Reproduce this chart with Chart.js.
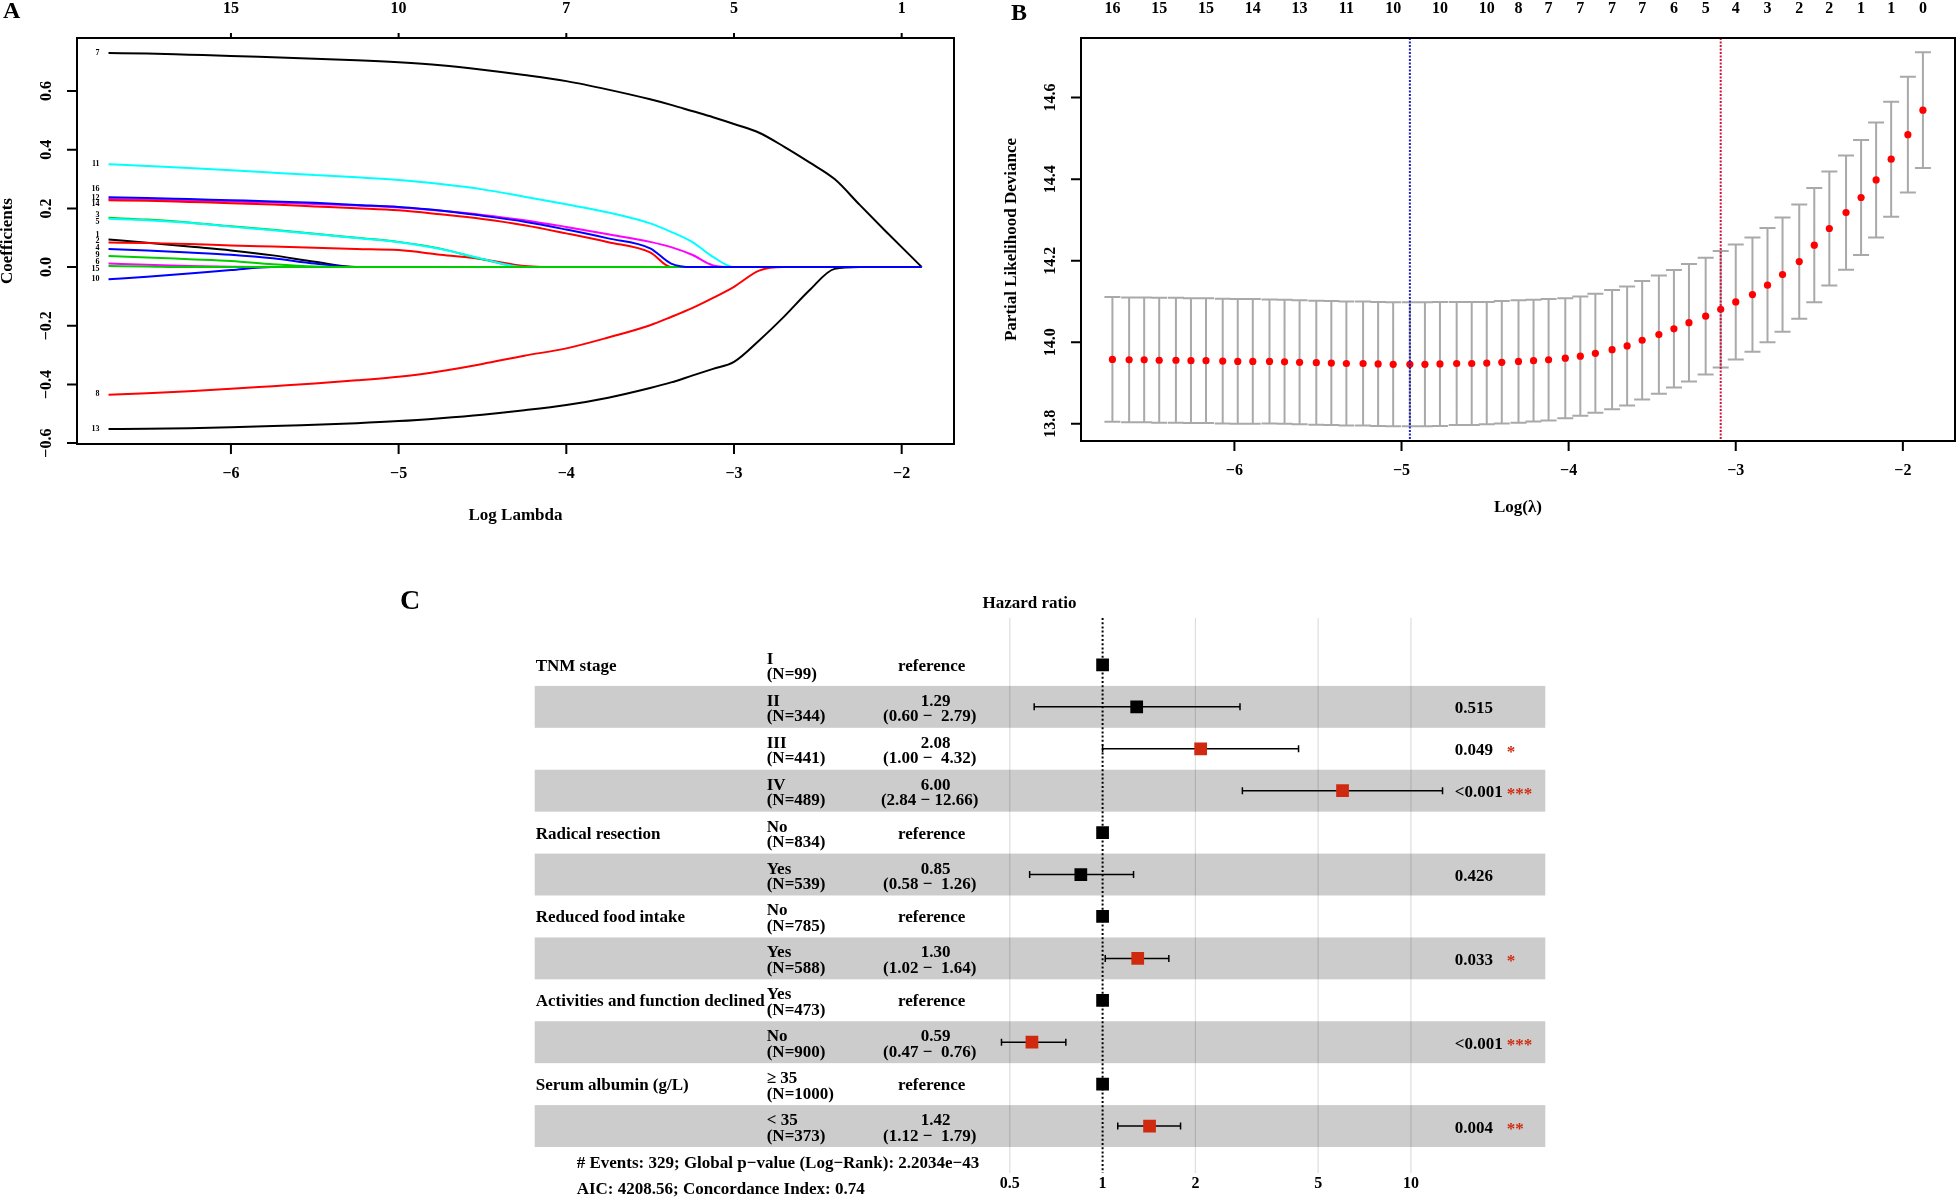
<!DOCTYPE html>
<html>
<head>
<meta charset="utf-8">
<title>LASSO Cox model and forest plot</title>
<script src="https://cdn.jsdelivr.net/npm/chart.js@4.4.1/dist/chart.umd.min.js"></script>
<style>
  body { margin: 0; background: #fff; }
  #page { position: relative; width: 1959px; height: 1198px; overflow: hidden; background: #fff; }
  canvas { position: absolute; }
</style>
</head>
<body>
<div id="page">
  <canvas id="chartA" width="980" height="540" style="left:0;top:0"></canvas>
  <canvas id="chartB" width="979" height="540" style="left:980px;top:0"></canvas>
  <canvas id="chartC" width="1200" height="638" style="left:380px;top:560px"></canvas>
</div>
<script>
const SERIF = '"Liberation Serif", "Times New Roman", serif'
const MINUS = '\u2212'
const rPalette = ['#000000', '#FF0000', '#00CD00', '#0000FF', '#00FFFF', '#FF00FF']

// ---- A: coefficient paths ----
const lambdaA = [-6.73, -6.5, -6.25, -6, -5.75, -5.5, -5.25, -5, -4.75, -4.5, -4.25, -4, -3.75, -3.5, -3.375, -3.25, -3.125, -3, -2.85, -2.7, -2.55, -2.4, -2.25, -2.1, -1.88]
const path1 = [0.094, 0.083, 0.070, 0.057, 0.040, 0.018, 0, 0, 0, 0, 0, 0, 0, 0, 0, 0, 0, 0, 0, 0, 0, 0, 0, 0, 0]
const path2 = [0.084, 0.082, 0.079, 0.074, 0.070, 0.066, 0.062, 0.058, 0.042, 0.027, 0.004, 0, 0, 0, 0, 0, 0, 0, 0, 0, 0, 0, 0, 0, 0]
const path3 = [0.168, 0.162, 0.152, 0.139, 0.127, 0.114, 0.100, 0.086, 0.063, 0.027, 0, 0, 0, 0, 0, 0, 0, 0, 0, 0, 0, 0, 0, 0, 0]
const path4 = [0.062, 0.057, 0.050, 0.042, 0.030, 0.012, 0, 0, 0, 0, 0, 0, 0, 0, 0, 0, 0, 0, 0, 0, 0, 0, 0, 0, 0]
const path5 = [0.165, 0.160, 0.151, 0.138, 0.126, 0.113, 0.099, 0.085, 0.062, 0.028, 0, 0, 0, 0, 0, 0, 0, 0, 0, 0, 0, 0, 0, 0, 0]
const path6 = [0.012, 0.008, 0.004, 0.001, 0, 0, 0, 0, 0, 0, 0, 0, 0, 0, 0, 0, 0, 0, 0, 0, 0, 0, 0, 0, 0]
const path7 = [0.730, 0.728, 0.724, 0.720, 0.715, 0.710, 0.705, 0.698, 0.688, 0.673, 0.655, 0.634, 0.605, 0.572, 0.553, 0.532, 0.511, 0.488, 0.458, 0.410, 0.357, 0.300, 0.212, 0.125, 0]
const path8 = [-0.435, -0.430, -0.423, -0.415, -0.406, -0.397, -0.386, -0.374, -0.355, -0.330, -0.302, -0.277, -0.240, -0.198, -0.170, -0.140, -0.105, -0.067, -0.012, 0, 0, 0, 0, 0, 0]
const path9 = [0.038, 0.033, 0.027, 0.021, 0.010, 0.002, 0, 0, 0, 0, 0, 0, 0, 0, 0, 0, 0, 0, 0, 0, 0, 0, 0, 0, 0]
const path10 = [-0.041, -0.033, -0.022, -0.010, 0, 0, 0, 0, 0, 0, 0, 0, 0, 0, 0, 0, 0, 0, 0, 0, 0, 0, 0, 0, 0]
const path11 = [0.351, 0.345, 0.338, 0.330, 0.322, 0.314, 0.306, 0.297, 0.283, 0.265, 0.240, 0.214, 0.186, 0.149, 0.120, 0.086, 0.035, 0, 0, 0, 0, 0, 0, 0, 0]
const path12 = [0.232, 0.230, 0.227, 0.224, 0.220, 0.215, 0.210, 0.203, 0.192, 0.178, 0.160, 0.137, 0.112, 0.086, 0.068, 0.042, 0.006, 0, 0, 0, 0, 0, 0, 0, 0]
const path13 = [-0.552, -0.551, -0.549, -0.546, -0.542, -0.537, -0.532, -0.525, -0.515, -0.503, -0.488, -0.470, -0.445, -0.412, -0.393, -0.370, -0.347, -0.323, -0.250, -0.168, -0.079, -0.006, 0, 0, 0]
const path14 = [0.228, 0.226, 0.222, 0.218, 0.213, 0.207, 0.201, 0.194, 0.180, 0.164, 0.143, 0.115, 0.085, 0.050, 0, 0, 0, 0, 0, 0, 0, 0, 0, 0, 0]
const path15 = [0.004, 0.002, 0, 0, 0, 0, 0, 0, 0, 0, 0, 0, 0, 0, 0, 0, 0, 0, 0, 0, 0, 0, 0, 0, 0]
const path16 = [0.238, 0.236, 0.232, 0.228, 0.224, 0.219, 0.212, 0.205, 0.193, 0.175, 0.155, 0.128, 0.098, 0.064, 0.012, 0, 0, 0, 0, 0, 0, 0, 0, 0, 0]
const pathsA = [path1, path2, path3, path4, path5, path6, path7, path8, path9, path10, path11, path12, path13, path14, path15, path16]
// where the little variable numbers sit on the left (coefficient units)
const labelYA = [0.109, 0.090, 0.177, 0.064, 0.154, 0.016, 0.731, -0.434, 0.041, -0.040, 0.352, 0.236, -0.552, 0.215, -0.006, 0.265]

const xTicksAB = [-6, -5, -4, -3, -2]
const yTicksA = [-0.6, -0.4, -0.2, 0, 0.2, 0.4, 0.6]
const topLabelsA = ['15', '10', '7', '5', '1']

// ---- B: cross-validation curve ----
const lambdaB = [-6.73, -6.63, -6.54, -6.45, -6.35, -6.26, -6.17, -6.07, -5.98, -5.89, -5.79, -5.70, -5.61, -5.51, -5.42, -5.33, -5.23, -5.14, -5.05, -4.95, -4.86, -4.77, -4.67, -4.58, -4.49, -4.40, -4.30, -4.21, -4.12, -4.02, -3.93, -3.84, -3.74, -3.65, -3.56, -3.46, -3.37, -3.28, -3.18, -3.09, -3.00, -2.90, -2.81, -2.72, -2.62, -2.53, -2.44, -2.34, -2.25, -2.16, -2.07, -1.97, -1.88]
const meanB = [13.958, 13.957, 13.957, 13.956, 13.956, 13.955, 13.955, 13.954, 13.953, 13.953,
  13.953, 13.952, 13.951, 13.950, 13.949, 13.948, 13.948, 13.947, 13.946, 13.946,
  13.946, 13.947, 13.948, 13.948, 13.949, 13.951, 13.953, 13.955, 13.957, 13.961,
  13.966, 13.973, 13.982, 13.991, 14.005, 14.019, 14.033, 14.048, 14.064, 14.081,
  14.099, 14.117, 14.140, 14.166, 14.198, 14.238, 14.279, 14.318, 14.355, 14.398,
  14.449, 14.509, 14.569]
const sdB = [0.153, 0.153, 0.153, 0.153, 0.153, 0.153, 0.153, 0.153, 0.153, 0.153,
  0.152, 0.152, 0.152, 0.152, 0.152, 0.152, 0.152, 0.152, 0.152, 0.152,
  0.152, 0.152, 0.151, 0.151, 0.150, 0.150, 0.150, 0.149, 0.149, 0.147,
  0.146, 0.146, 0.146, 0.146, 0.145, 0.145, 0.144, 0.144, 0.143, 0.143,
  0.141, 0.140, 0.140, 0.140, 0.140, 0.140, 0.140, 0.140, 0.141, 0.141,
  0.141, 0.142, 0.142]
const lambdaMinB = -4.95
const lambda1seB = -3.09
const nzAtB = [-6.73, -6.45, -6.17, -5.89, -5.61, -5.33, -5.05, -4.77, -4.49, -4.30, -4.12, -3.93, -3.74, -3.56, -3.37, -3.18, -3.00, -2.81, -2.62, -2.44, -2.25, -2.07, -1.88]
const nzLabelsB = ['16', '15', '15', '14', '13', '11', '10', '10', '10', '8', '7', '7', '7', '7', '6', '5', '4', '3', '2', '2', '1', '1', '0']
const yTicksB = [13.8, 14.0, 14.2, 14.4, 14.6]

// ---- C: forest plot ----
const varNamesC = ['TNM stage', '', '', '', 'Radical resection', '', 'Reduced food intake', '', 'Activities and function declined', '', 'Serum albumin (g/L)', '']
const levelsC = ['I', 'II', 'III', 'IV', 'No', 'Yes', 'No', 'Yes', 'Yes', 'No', '\u2265 35', '< 35']
const nC = [99, 344, 441, 489, 834, 539, 785, 588, 473, 900, 1000, 373]
const hrC = [1, 1.29, 2.08, 6.00, 1, 0.85, 1, 1.30, 1, 0.59, 1, 1.42]
const loC = [null, 0.60, 1.00, 2.84, null, 0.58, null, 1.02, null, 0.47, null, 1.12]
const hiC = [null, 2.79, 4.32, 12.66, null, 1.26, null, 1.64, null, 0.76, null, 1.79]
const pC = ['', '0.515', '0.049', '<0.001', '', '0.426', '', '0.033', '', '<0.001', '', '0.004']
const starsC = ['', '', '*', '***', '', '', '', '*', '', '***', '', '**']
const hrBreaks = [0.5, 1, 2, 5, 10]
const footerC = ['# Events: 329; Global p\u2212value (Log\u2212Rank): 2.2034e\u221243', 'AIC: 4208.56; Concordance Index: 0.74']
const SIG_RED = '#CF2A10'

function fmt(v, d) {
  return (v < 0 ? MINUS : '') + Math.abs(v).toFixed(d)
}

function rotText(ctx, s, x, y) {
  ctx.save()
  ctx.translate(x, y)
  ctx.rotate(-Math.PI / 2)
  ctx.fillText(s, 0, 0)
  ctx.restore()
}

function text(ctx, s, x, y, align) {
  ctx.textAlign = align
  ctx.fillText(s, x, y)
}

// R base-graphics look: box, outward ticks, rotated y labels
function rFrame(o) {
  return {
    id: 'rFrame',
    afterDraw(chart) {
      const { ctx, chartArea: a } = chart
      const sx = chart.scales.x
      const sy = chart.scales.y
      ctx.save()
      ctx.strokeStyle = '#000'
      ctx.fillStyle = '#000'
      ctx.lineWidth = 2
      ctx.strokeRect(a.left, a.top, a.right - a.left, a.bottom - a.top)
      ctx.font = `bold 16px ${SERIF}`
      ctx.textAlign = 'center'
      ctx.textBaseline = 'middle'
      ctx.beginPath()
      o.xTicks.forEach(v => {
        const p = sx.getPixelForValue(v)
        ctx.moveTo(p, a.bottom)
        ctx.lineTo(p, a.bottom + 10)
        ctx.fillText(fmt(v, 0), p, a.bottom + 30)
      })
      o.yTicks.forEach(v => {
        const p = sy.getPixelForValue(v)
        ctx.moveTo(a.left, p)
        ctx.lineTo(a.left - 10, p)
        rotText(ctx, fmt(v, 1), a.left - 30, p)
      })
      o.topAt.forEach((v, i) => {
        const p = sx.getPixelForValue(v)
        if (o.topTicks) {
          ctx.moveTo(p, a.top)
          ctx.lineTo(p, a.top - 5)
        }
        ctx.fillText(o.topLabels[i], p, a.top - 29)
      })
      ctx.stroke()
      ctx.font = `bold 17px ${SERIF}`
      ctx.fillText(o.xTitle, (a.left + a.right) / 2, a.bottom + o.xTitleGap)
      rotText(ctx, o.yTitle, a.left - 69, (a.top + a.bottom) / 2)
      ctx.font = `bold 24px ${SERIF}`
      ctx.textAlign = 'left'
      ctx.textBaseline = 'top'
      ctx.fillText(o.letter, o.letterX, o.letterY)
      ctx.restore()
    }
  }
}

const pathLabels = {
  id: 'pathLabels',
  afterDatasetsDraw(chart) {
    const { ctx } = chart
    const x0 = chart.scales.x.getPixelForValue(lambdaA[0]) - 9
    ctx.save()
    ctx.fillStyle = '#000'
    ctx.font = `bold 8px ${SERIF}`
    ctx.textAlign = 'right'
    ctx.textBaseline = 'middle'
    labelYA.forEach((v, i) => {
      ctx.fillText(String(i + 1), x0, chart.scales.y.getPixelForValue(v))
    })
    ctx.restore()
  }
}

const datasetsA = pathsA.map((vals, i) => ({
  label: String(i + 1),
  data: vals.map((v, j) => ({ x: lambdaA[j], y: v })),
  borderColor: rPalette[i % 6],
  borderWidth: 2,
  pointRadius: 0,
  cubicInterpolationMode: 'monotone',
  order: pathsA.length - i
}))

new Chart(document.getElementById('chartA'), {
  type: 'line',
  data: { datasets: datasetsA },
  options: {
    responsive: false,
    animation: false,
    layout: { padding: { left: 77, top: 38, right: 26, bottom: 96 } },
    plugins: { legend: { display: false }, tooltip: { enabled: false } },
    scales: {
      x: { type: 'linear', min: -6.918, max: -1.688, display: false },
      y: { type: 'linear', min: -0.603, max: 0.781, display: false }
    }
  },
  plugins: [pathLabels, rFrame({
    xTicks: xTicksAB, yTicks: yTicksA,
    topAt: xTicksAB, topLabels: topLabelsA, topTicks: true,
    xTitle: 'Log Lambda', xTitleGap: 72, yTitle: 'Coefficients',
    letter: 'A', letterX: 3, letterY: 0
  })]
})

const cvBars = {
  id: 'cvBars',
  beforeDatasetsDraw(chart) {
    const { ctx } = chart
    const sx = chart.scales.x
    const sy = chart.scales.y
    ctx.save()
    ctx.strokeStyle = '#A9A9A9'
    ctx.lineWidth = 2
    ctx.beginPath()
    lambdaB.forEach((l, i) => {
      const px = sx.getPixelForValue(l)
      const hi = sy.getPixelForValue(meanB[i] + sdB[i])
      const lo = sy.getPixelForValue(meanB[i] - sdB[i])
      ctx.moveTo(px, hi)
      ctx.lineTo(px, lo)
      ctx.moveTo(px - 8, hi)
      ctx.lineTo(px + 8, hi)
      ctx.moveTo(px - 8, lo)
      ctx.lineTo(px + 8, lo)
    })
    ctx.stroke()
    ctx.restore()
  },
  afterDatasetsDraw(chart) {
    const { ctx, chartArea: a } = chart
    const sx = chart.scales.x
    ctx.save()
    ctx.lineWidth = 2
    ctx.setLineDash([2, 1.5])
    const marks = [[lambdaMinB, '#2323B8'], [lambda1seB, '#D3143C']]
    marks.forEach(([v, c]) => {
      const p = sx.getPixelForValue(v)
      ctx.strokeStyle = c
      ctx.beginPath()
      ctx.moveTo(p, a.top)
      ctx.lineTo(p, a.bottom)
      ctx.stroke()
    })
    ctx.restore()
  }
}

new Chart(document.getElementById('chartB'), {
  type: 'scatter',
  data: {
    datasets: [{
      label: 'Partial likelihood deviance',
      data: lambdaB.map((l, i) => ({ x: l, y: meanB[i] })),
      pointRadius: 3.6,
      pointBackgroundColor: '#FF0000',
      pointBorderWidth: 0
    }]
  },
  options: {
    responsive: false,
    animation: false,
    layout: { padding: { left: 101, top: 38, right: 1, bottom: 99 } },
    plugins: { legend: { display: false }, tooltip: { enabled: false } },
    scales: {
      x: { type: 'linear', min: -6.918, max: -1.688, display: false },
      y: { type: 'linear', min: 13.758, max: 14.746, display: false }
    }
  },
  plugins: [cvBars, rFrame({
    xTicks: xTicksAB, yTicks: yTicksB,
    topAt: nzAtB, topLabels: nzLabelsB, topTicks: false,
    xTitle: 'Log(\u03bb)', xTitleGap: 67, yTitle: 'Partial Likelihood Deviance',
    letter: 'B', letterX: 31, letterY: 1.5
  })]
})

const forest = {
  id: 'forest',
  beforeDatasetsDraw(chart) {
    const { ctx, chartArea: a } = chart
    const sx = chart.scales.x
    const sy = chart.scales.y
    ctx.save()
    ctx.strokeStyle = '#DEDEDE'
    ctx.lineWidth = 1.2
    ctx.beginPath()
    hrBreaks.forEach(v => {
      if (v === 1) return
      const p = sx.getPixelForValue(v)
      ctx.moveTo(p, a.top)
      ctx.lineTo(p, a.bottom)
    })
    ctx.stroke()
    ctx.fillStyle = 'rgba(0,0,0,0.2)'
    hrC.forEach((_, i) => {
      if (i % 2 === 1) {
        const t = sy.getPixelForValue(i + 0.5)
        const b = sy.getPixelForValue(i + 1.5)
        ctx.fillRect(a.left, t, a.right - a.left, b - t)
      }
    })
    const one = sx.getPixelForValue(1)
    ctx.strokeStyle = '#000'
    ctx.lineWidth = 2
    ctx.setLineDash([2, 2.2])
    ctx.beginPath()
    ctx.moveTo(one, a.top)
    ctx.lineTo(one, a.bottom)
    ctx.stroke()
    ctx.setLineDash([])
    ctx.lineWidth = 1.5
    ctx.beginPath()
    hrC.forEach((_, i) => {
      if (loC[i] == null) return
      const y = sy.getPixelForValue(i + 1)
      const l = sx.getPixelForValue(loC[i])
      const h = sx.getPixelForValue(hiC[i])
      ctx.moveTo(l, y)
      ctx.lineTo(h, y)
      ctx.moveTo(l, y - 3.5)
      ctx.lineTo(l, y + 3.5)
      ctx.moveTo(h, y - 3.5)
      ctx.lineTo(h, y + 3.5)
    })
    ctx.stroke()
    ctx.restore()
  },
  afterDraw(chart) {
    const { ctx, chartArea: a } = chart
    const sx = chart.scales.x
    const sy = chart.scales.y
    ctx.save()
    ctx.fillStyle = '#000'
    ctx.textBaseline = 'alphabetic'
    ctx.font = `bold 17px ${SERIF}`
    text(ctx, 'Hazard ratio', 649.5, a.top - 10, 'center')
    hrC.forEach((hr, i) => {
      const c = sy.getPixelForValue(i + 1)
      ctx.fillStyle = '#000'
      if (varNamesC[i]) text(ctx, varNamesC[i], a.left + 1, c + 6, 'left')
      text(ctx, levelsC[i], a.left + 232, c - 1, 'left')
      text(ctx, `(N=${nC[i]})`, a.left + 232, c + 14.5, 'left')
      if (loC[i] == null) {
        text(ctx, 'reference', a.left + 397, c + 6, 'center')
      } else {
        text(ctx, hr.toFixed(2), a.left + 401, c - 1, 'center')
        const ci = `(${loC[i].toFixed(2)} ${MINUS} ${hiC[i].toFixed(2).padStart(5)})`
        text(ctx, ci, a.left + 395, c + 14.5, 'center')
      }
      if (pC[i]) text(ctx, pC[i], a.left + 920, c + 6.5, 'left')
      if (starsC[i]) {
        ctx.fillStyle = SIG_RED
        text(ctx, starsC[i], a.left + 972, c + 8, 'left')
      }
    })
    ctx.fillStyle = '#000'
    ctx.font = `bold 16px ${SERIF}`
    hrBreaks.forEach(v => {
      text(ctx, String(v), sx.getPixelForValue(v), a.bottom + 15, 'center')
    })
    ctx.font = `bold 17px ${SERIF}`
    text(ctx, footerC[0], a.left + 42, a.bottom - 5.5, 'left')
    text(ctx, footerC[1], a.left + 42, a.bottom + 21, 'left')
    ctx.font = `bold 28px ${SERIF}`
    text(ctx, 'C', 20, 49, 'left')
    ctx.restore()
  }
}

new Chart(document.getElementById('chartC'), {
  type: 'scatter',
  data: {
    datasets: [{
      label: 'Hazard ratio',
      data: hrC.map((v, i) => ({ x: v, y: i + 1 })),
      pointStyle: 'rect',
      pointRadius: 9,
      pointBorderWidth: 0,
      pointBackgroundColor: starsC.map(s => (s ? SIG_RED : '#000'))
    }]
  },
  options: {
    responsive: false,
    animation: false,
    layout: { padding: { left: 154.7, top: 58, right: 34.7, bottom: 25 } },
    plugins: { legend: { display: false }, tooltip: { enabled: false } },
    scales: {
      x: { type: 'logarithmic', min: 0.0144, max: 27.27, display: false },
      y: { type: 'linear', min: -0.12, max: 13.12, reverse: true, display: false }
    }
  },
  plugins: [forest]
})
</script>
</body>
</html>
